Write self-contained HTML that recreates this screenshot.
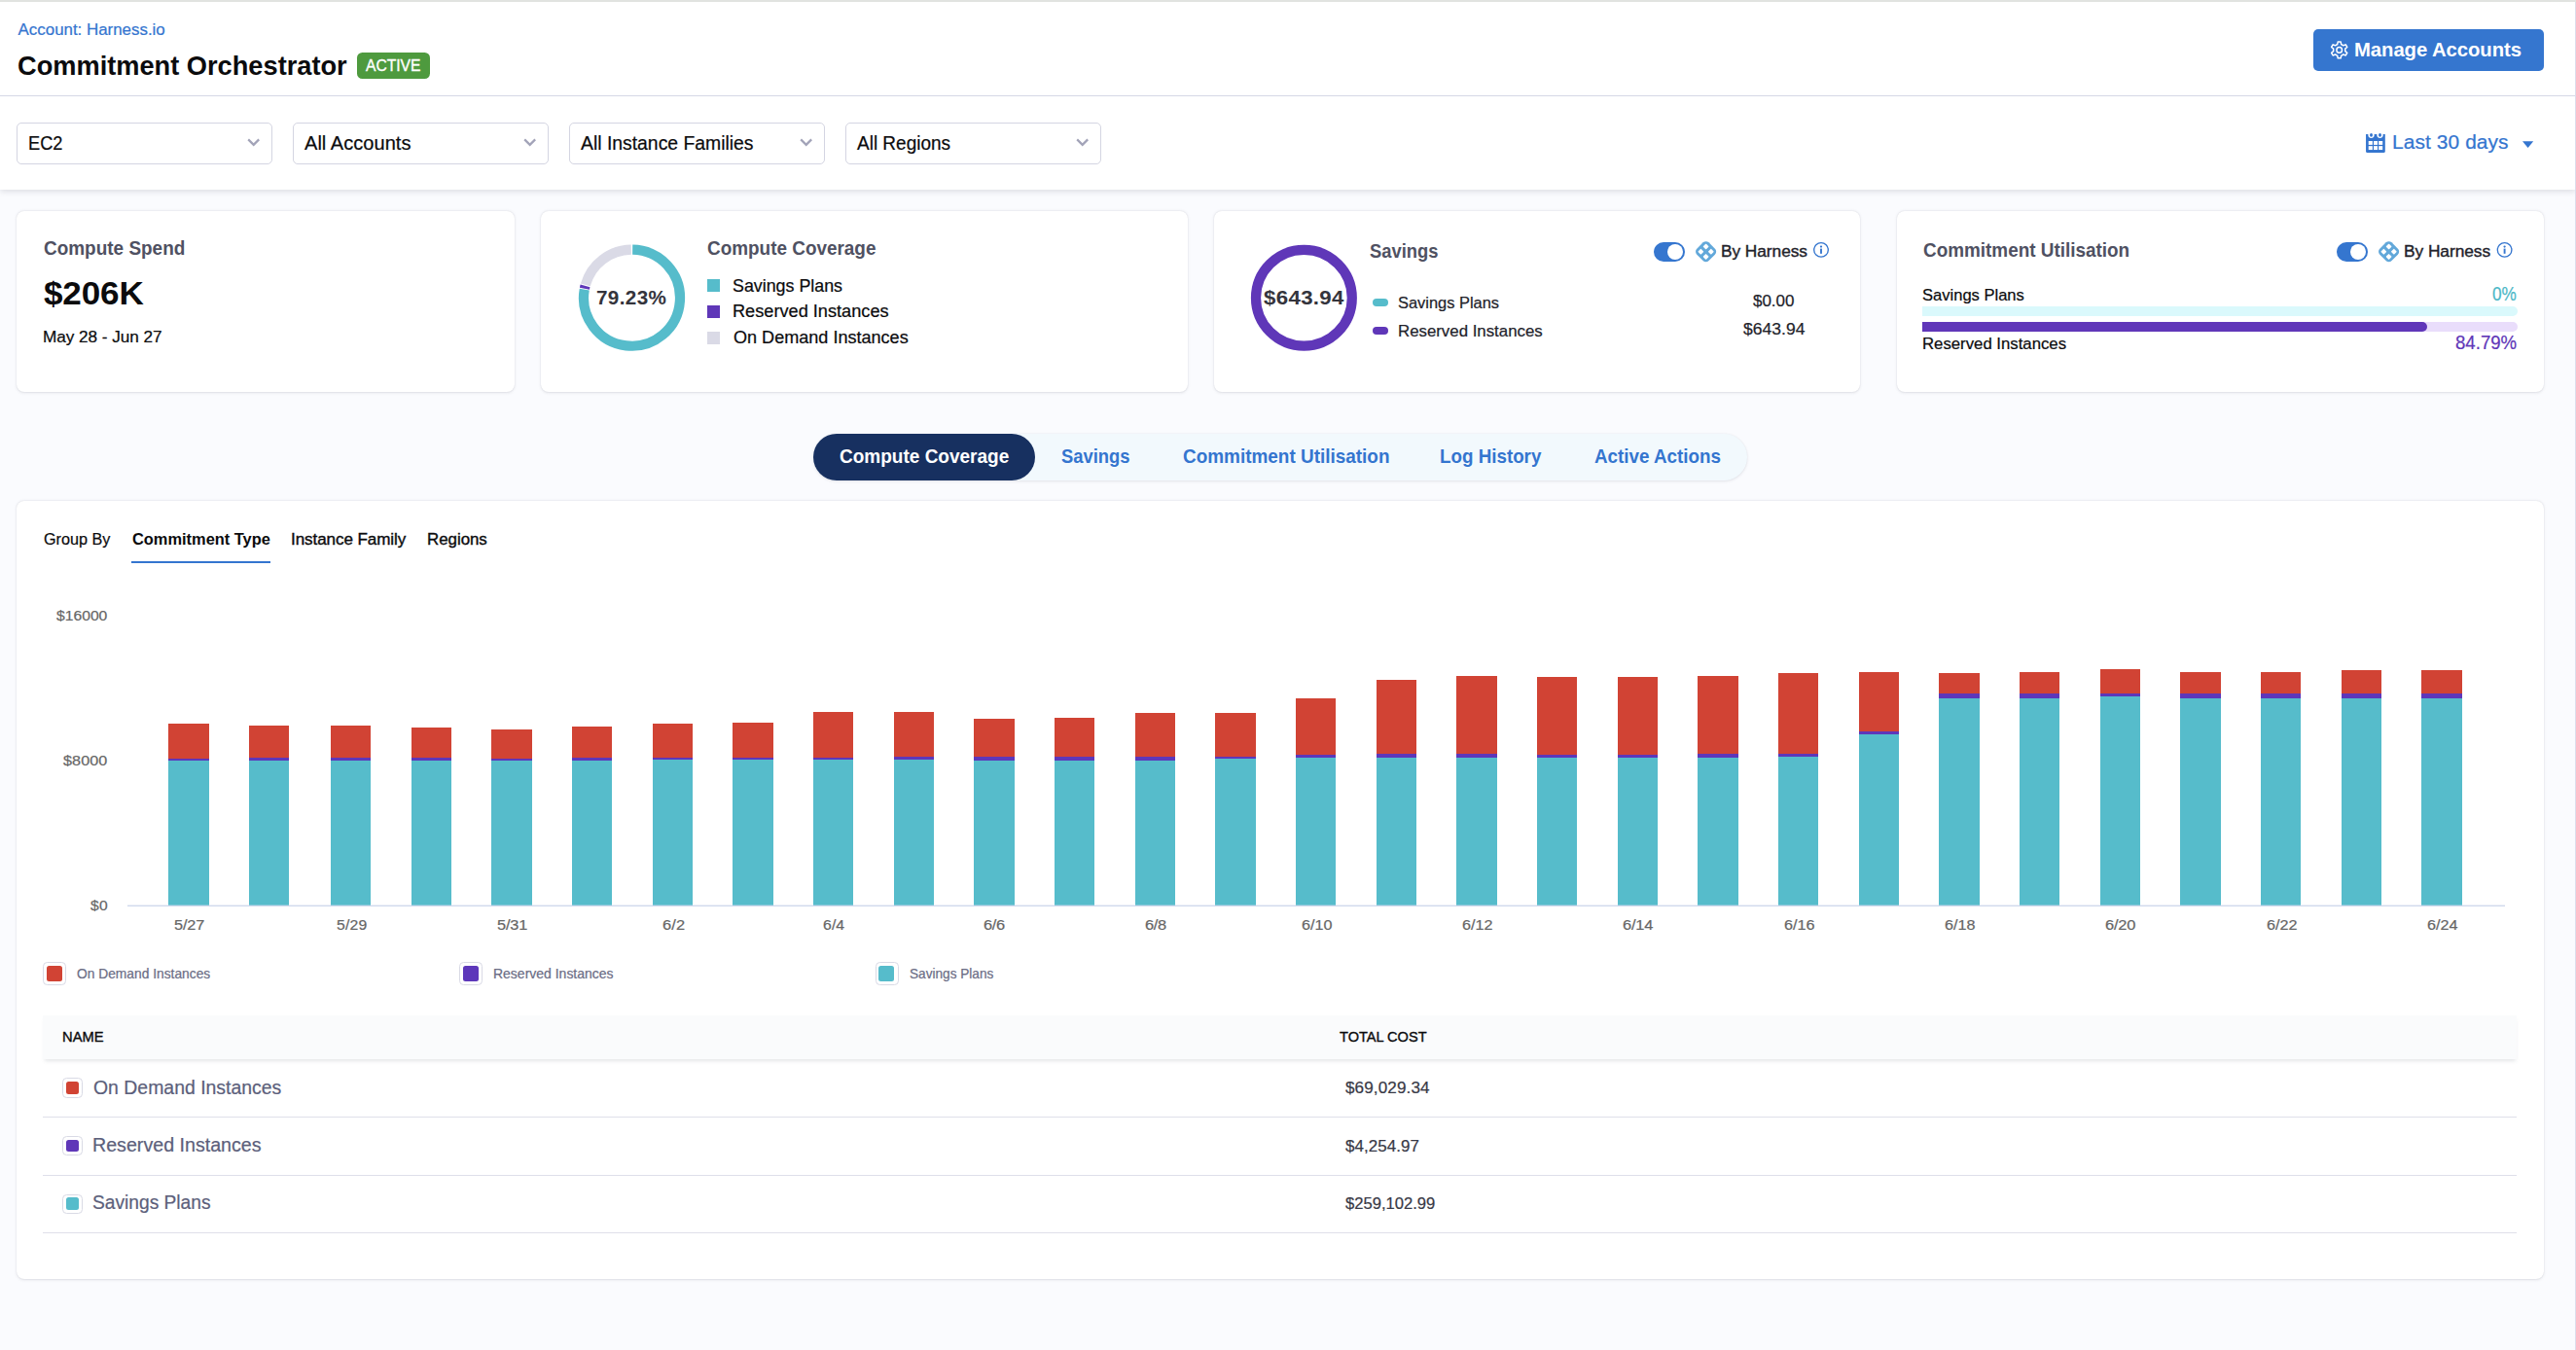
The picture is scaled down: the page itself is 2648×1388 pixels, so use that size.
<!DOCTYPE html>
<html lang="en">
<head>
<meta charset="utf-8">
<title>Commitment Orchestrator</title>
<style>
html,body{margin:0;padding:0;}
body{width:2648px;height:1388px;overflow:hidden;background:#FAFBFE;font-family:"Liberation Sans",sans-serif;}
#root{position:relative;width:2648px;height:1388px;overflow:hidden;}
.abs,.t,.card,.sel,svg{position:absolute;}
svg{overflow:visible;}
.t{white-space:nowrap;display:block;}
.r{-webkit-text-stroke:0.22px currentColor;}
.m{-webkit-text-stroke:0.38px currentColor;}
.card{background:#fff;border-radius:8px;box-shadow:0 0 1.4px rgba(40,41,61,.09),0 0.7px 2.8px rgba(96,97,112,.17);}
.sel{box-sizing:border-box;top:126.3px;height:42.4px;width:262.7px;border:1.2px solid #D4D5E2;border-radius:5px;background:#fff;}
.sw{position:absolute;box-sizing:border-box;border:1.2px solid #D9DAE5;border-radius:4.5px;background:#fff;}
.sw i{position:absolute;display:block;border-radius:2.5px;}
.hr{position:absolute;left:44px;width:2543px;height:1.3px;background:#DFE0EA;}
</style>
</head>
<body>
<div id="root">
<div class="abs" style="left:0;top:99px;width:2648px;height:96px;background:#fff;box-shadow:0 2px 6px rgba(96,97,112,.18);"></div>
<div class="abs" style="left:0;top:0;width:2648px;height:98px;background:#fff;border-bottom:1.2px solid #D5D8E6;"></div>
<div class="abs" style="left:0;top:0;width:2648px;height:2px;background:#E1E3E0;"></div>
<div class="abs" style="left:367px;top:54px;width:75px;height:27px;border-radius:5.5px;background:#4E9A3E;"></div>
<div class="abs" style="left:2378px;top:30px;width:237px;height:43px;border-radius:5px;background:#3576CF;"></div>
<svg style="left:2393px;top:40px" width="22" height="22" viewBox="-11.7 -11.4 22 22"><g fill="none" stroke="#fff" stroke-width="1.5" stroke-linejoin="round"><path d="M-1.92 -5.90 L-1.49 -8.47 L1.49 -8.47 L1.92 -5.90 L4.15 -4.61 L6.59 -5.53 L8.08 -2.94 L6.06 -1.29 L6.06 1.29 L8.08 2.94 L6.59 5.53 L4.15 4.61 L1.92 5.90 L1.49 8.47 L-1.49 8.47 L-1.92 5.90 L-4.15 4.61 L-6.59 5.53 L-8.08 2.94 L-6.06 1.29 L-6.06 -1.29 L-8.08 -2.94 L-6.59 -5.53 L-4.15 -4.61Z"/><circle r="2.8"/></g></svg>
<div class="sel" style="left:17.3px"></div>
<svg style="left:252px;top:140px" width="16" height="13" viewBox="-0.8 0 16 13"><path d="M2.4 3.4 L7.9 8.9 L13.4 3.4" fill="none" stroke="#A2A3B8" stroke-width="2.2"/></svg>
<div class="sel" style="left:301.3px"></div>
<svg style="left:536px;top:140px" width="16" height="13" viewBox="-0.8 0 16 13"><path d="M2.4 3.4 L7.9 8.9 L13.4 3.4" fill="none" stroke="#A2A3B8" stroke-width="2.2"/></svg>
<div class="sel" style="left:585.3px"></div>
<svg style="left:820px;top:140px" width="16" height="13" viewBox="-0.8 0 16 13"><path d="M2.4 3.4 L7.9 8.9 L13.4 3.4" fill="none" stroke="#A2A3B8" stroke-width="2.2"/></svg>
<div class="sel" style="left:869.3px"></div>
<svg style="left:1104px;top:140px" width="16" height="13" viewBox="-0.8 0 16 13"><path d="M2.4 3.4 L7.9 8.9 L13.4 3.4" fill="none" stroke="#A2A3B8" stroke-width="2.2"/></svg>
<svg style="left:2431px;top:136px" width="21" height="21" viewBox="-0.5 -0.5 21 21"><path d="M0.55 1.6h19.75v17.35a1.5 1.5 0 0 1-1.5 1.5h-16.75a1.5 1.5 0 0 1-1.5-1.5z" fill="#3475CF"/><circle cx="6" cy="2.3" r="3.15" fill="#fff"/><circle cx="15" cy="2.3" r="3.15" fill="#fff"/><ellipse cx="6" cy="2.35" rx="1.5" ry="1.95" fill="#3475CF"/><ellipse cx="15" cy="2.35" rx="1.5" ry="1.95" fill="#3475CF"/><g fill="#fff"><rect x="3.2" y="8.5" width="4.15" height="3.9"/><rect x="8.5" y="8.5" width="4" height="3.9"/><rect x="13.65" y="8.5" width="4.05" height="3.9"/><rect x="3.2" y="13.65" width="4.15" height="3.9"/><rect x="8.5" y="13.65" width="4" height="3.9"/><rect x="13.65" y="13.65" width="4.05" height="3.9"/></g></svg>
<svg style="left:2592px;top:144px" width="14" height="10" viewBox="0 0 14 10"><path d="M1 1.2 L12.2 1.2 L6.6 8 Z" fill="#3475CF"/></svg>
<div class="card" style="left:17px;top:217px;width:512px;height:186px;"></div>
<div class="card" style="left:556px;top:217px;width:665px;height:186px;"></div>
<div class="card" style="left:1248px;top:217px;width:664px;height:186px;"></div>
<div class="card" style="left:1949.5px;top:217px;width:665.5px;height:186px;"></div>
<svg style="left:590px;top:246px" width="120" height="120" viewBox="590 246 120 120"><g fill="none" stroke-width="10.2"><path d="M650.19 256.70 A49.5 49.5 0 1 1 600.75 297.60" stroke="#56BCCB"/><path d="M600.91 296.75 A49.5 49.5 0 0 1 601.56 293.89" stroke="#5F37B8"/><path d="M601.82 292.89 A49.5 49.5 0 0 1 648.81 256.70" stroke="#DADAE6"/></g></svg>
<div class="abs" style="left:727px;top:287.2px;width:13.1px;height:13.3px;background:#56BCCB;"></div>
<div class="abs" style="left:727px;top:314px;width:13.1px;height:13.3px;background:#5F37B8;"></div>
<div class="abs" style="left:727px;top:341px;width:13.1px;height:13.3px;background:#DADAE6;"></div>
<svg style="left:1280px;top:246px" width="120" height="120" viewBox="1280 246 120 120"><circle cx="1340.4" cy="306.3" r="49.4" fill="none" stroke="#5F37B8" stroke-width="10.2"/></svg>
<div class="abs" style="left:1411px;top:307px;width:16px;height:8.1px;border-radius:4.1px;background:#56BCCB;"></div>
<div class="abs" style="left:1411px;top:335.9px;width:16px;height:8.2px;border-radius:4.1px;background:#5F37B8;"></div>
<div class="abs" style="left:1700px;top:249px;width:32px;height:20px;border-radius:10px;background:#3576CF;"></div><div class="abs" style="left:1713.7px;top:250.7px;width:16.6px;height:16.6px;border-radius:50%;background:#fff;"></div>
<svg style="left:1741px;top:246px" width="24" height="24" viewBox="-12.6 -12.7 24 24"><g transform="rotate(45)"><rect x="-8.7" y="-8.7" width="17.4" height="17.4" rx="4.2" ry="4.2" fill="#62A8DA"/><rect x="-5.9" y="-5.9" width="4.4" height="4.4" rx="0.8" fill="#fff"/><rect x="1.5" y="-5.9" width="4.4" height="4.4" rx="0.8" fill="#fff"/><rect x="1.5" y="1.5" width="4.4" height="4.4" rx="0.8" fill="#fff"/><rect x="-5.9" y="1.5" width="4.4" height="4.4" rx="0.8" fill="#fff"/></g></svg>
<svg style="left:1863px;top:247px" width="18" height="18" viewBox="-9 -9.9 18 18"><circle r="7.3" fill="none" stroke="#3576CF" stroke-width="1.35"/><circle cx="0" cy="-3.3" r="1.15" fill="#3576CF"/><rect x="-0.95" y="-1.3" width="1.9" height="5.2" fill="#3576CF"/></svg>
<div class="abs" style="left:2402px;top:249px;width:32px;height:20px;border-radius:10px;background:#3576CF;"></div><div class="abs" style="left:2415.7px;top:250.7px;width:16.6px;height:16.6px;border-radius:50%;background:#fff;"></div>
<svg style="left:2443px;top:246px" width="24" height="24" viewBox="-12.6 -12.7 24 24"><g transform="rotate(45)"><rect x="-8.7" y="-8.7" width="17.4" height="17.4" rx="4.2" ry="4.2" fill="#62A8DA"/><rect x="-5.9" y="-5.9" width="4.4" height="4.4" rx="0.8" fill="#fff"/><rect x="1.5" y="-5.9" width="4.4" height="4.4" rx="0.8" fill="#fff"/><rect x="1.5" y="1.5" width="4.4" height="4.4" rx="0.8" fill="#fff"/><rect x="-5.9" y="1.5" width="4.4" height="4.4" rx="0.8" fill="#fff"/></g></svg>
<svg style="left:2565px;top:247px" width="18" height="18" viewBox="-9.6 -9.9 18 18"><circle r="7.3" fill="none" stroke="#3576CF" stroke-width="1.35"/><circle cx="0" cy="-3.3" r="1.15" fill="#3576CF"/><rect x="-0.95" y="-1.3" width="1.9" height="5.2" fill="#3576CF"/></svg>
<div class="abs" style="left:1976px;top:315.1px;width:612px;height:9.8px;border-radius:0 5px 5px 0;background:#DAF9FC;"></div>
<div class="abs" style="left:1976px;top:331px;width:612px;height:9.9px;border-radius:0 5px 5px 0;background:#E9DDFB;"></div>
<div class="abs" style="left:1976px;top:331px;width:519px;height:9.9px;border-radius:0 5px 5px 0;background:#6037B9;"></div>
<div class="abs" style="left:836px;top:446px;width:960px;height:48px;border-radius:24px;background:#F2F9FD;box-shadow:0 0 2px rgba(40,41,61,.06),0 1px 3px rgba(96,97,112,.14);"></div>
<div class="abs" style="left:836px;top:446px;width:228px;height:48px;border-radius:24px;background:#173060;"></div>
<div class="card" style="left:17px;top:515px;width:2598px;height:800px;"></div>
<div class="abs" style="left:135px;top:576.6px;width:143px;height:2.6px;background:#3475CF;"></div>
<svg style="left:0;top:600px" width="2648" height="360" viewBox="0 600 2648 360" shape-rendering="auto"><rect x="173" y="744" width="42" height="36" fill="#D14334"/><rect x="173" y="780" width="42" height="2" fill="#5D37BA"/><rect x="173" y="782" width="42" height="149" fill="#56BCCB"/><rect x="256" y="746" width="41" height="33" fill="#D14334"/><rect x="256" y="779" width="41" height="3" fill="#5D37BA"/><rect x="256" y="782" width="41" height="149" fill="#56BCCB"/><rect x="340" y="746" width="41" height="33" fill="#D14334"/><rect x="340" y="779" width="41" height="3" fill="#5D37BA"/><rect x="340" y="782" width="41" height="149" fill="#56BCCB"/><rect x="423" y="748" width="41" height="31" fill="#D14334"/><rect x="423" y="779" width="41" height="3" fill="#5D37BA"/><rect x="423" y="782" width="41" height="149" fill="#56BCCB"/><rect x="505" y="750" width="42" height="30" fill="#D14334"/><rect x="505" y="780" width="42" height="2" fill="#5D37BA"/><rect x="505" y="782" width="42" height="149" fill="#56BCCB"/><rect x="588" y="747" width="41" height="32" fill="#D14334"/><rect x="588" y="779" width="41" height="3" fill="#5D37BA"/><rect x="588" y="782" width="41" height="149" fill="#56BCCB"/><rect x="671" y="744" width="41" height="35" fill="#D14334"/><rect x="671" y="779" width="41" height="2" fill="#5D37BA"/><rect x="671" y="781" width="41" height="150" fill="#56BCCB"/><rect x="753" y="743" width="42" height="36" fill="#D14334"/><rect x="753" y="779" width="42" height="2" fill="#5D37BA"/><rect x="753" y="781" width="42" height="150" fill="#56BCCB"/><rect x="836" y="732" width="41" height="47" fill="#D14334"/><rect x="836" y="779" width="41" height="2" fill="#5D37BA"/><rect x="836" y="781" width="41" height="150" fill="#56BCCB"/><rect x="919" y="732" width="41" height="46" fill="#D14334"/><rect x="919" y="778" width="41" height="3" fill="#5D37BA"/><rect x="919" y="781" width="41" height="150" fill="#56BCCB"/><rect x="1001" y="739" width="42" height="39" fill="#D14334"/><rect x="1001" y="778" width="42" height="4" fill="#5D37BA"/><rect x="1001" y="782" width="42" height="149" fill="#56BCCB"/><rect x="1084" y="738" width="41" height="40" fill="#D14334"/><rect x="1084" y="778" width="41" height="4" fill="#5D37BA"/><rect x="1084" y="782" width="41" height="149" fill="#56BCCB"/><rect x="1167" y="733" width="41" height="45" fill="#D14334"/><rect x="1167" y="778" width="41" height="4" fill="#5D37BA"/><rect x="1167" y="782" width="41" height="149" fill="#56BCCB"/><rect x="1249" y="733" width="42" height="45" fill="#D14334"/><rect x="1249" y="778" width="42" height="2" fill="#5D37BA"/><rect x="1249" y="780" width="42" height="151" fill="#56BCCB"/><rect x="1332" y="718" width="41" height="58" fill="#D14334"/><rect x="1332" y="776" width="41" height="3" fill="#5D37BA"/><rect x="1332" y="779" width="41" height="152" fill="#56BCCB"/><rect x="1415" y="699" width="41" height="76" fill="#D14334"/><rect x="1415" y="775" width="41" height="4" fill="#5D37BA"/><rect x="1415" y="779" width="41" height="152" fill="#56BCCB"/><rect x="1497" y="695" width="42" height="80" fill="#D14334"/><rect x="1497" y="775" width="42" height="4" fill="#5D37BA"/><rect x="1497" y="779" width="42" height="152" fill="#56BCCB"/><rect x="1580" y="696" width="41" height="80" fill="#D14334"/><rect x="1580" y="776" width="41" height="3" fill="#5D37BA"/><rect x="1580" y="779" width="41" height="152" fill="#56BCCB"/><rect x="1663" y="696" width="41" height="80" fill="#D14334"/><rect x="1663" y="776" width="41" height="3" fill="#5D37BA"/><rect x="1663" y="779" width="41" height="152" fill="#56BCCB"/><rect x="1745" y="695" width="42" height="80" fill="#D14334"/><rect x="1745" y="775" width="42" height="4" fill="#5D37BA"/><rect x="1745" y="779" width="42" height="152" fill="#56BCCB"/><rect x="1828" y="692" width="41" height="83" fill="#D14334"/><rect x="1828" y="775" width="41" height="3" fill="#5D37BA"/><rect x="1828" y="778" width="41" height="153" fill="#56BCCB"/><rect x="1911" y="691" width="41" height="61" fill="#D14334"/><rect x="1911" y="752" width="41" height="3" fill="#5D37BA"/><rect x="1911" y="755" width="41" height="176" fill="#56BCCB"/><rect x="1993" y="692" width="42" height="21" fill="#D14334"/><rect x="1993" y="713" width="42" height="5" fill="#5D37BA"/><rect x="1993" y="718" width="42" height="213" fill="#56BCCB"/><rect x="2076" y="691" width="41" height="22" fill="#D14334"/><rect x="2076" y="713" width="41" height="5" fill="#5D37BA"/><rect x="2076" y="718" width="41" height="213" fill="#56BCCB"/><rect x="2159" y="688" width="41" height="25" fill="#D14334"/><rect x="2159" y="713" width="41" height="3" fill="#5D37BA"/><rect x="2159" y="716" width="41" height="215" fill="#56BCCB"/><rect x="2241" y="691" width="42" height="22" fill="#D14334"/><rect x="2241" y="713" width="42" height="5" fill="#5D37BA"/><rect x="2241" y="718" width="42" height="213" fill="#56BCCB"/><rect x="2324" y="691" width="41" height="22" fill="#D14334"/><rect x="2324" y="713" width="41" height="5" fill="#5D37BA"/><rect x="2324" y="718" width="41" height="213" fill="#56BCCB"/><rect x="2407" y="689" width="41" height="24" fill="#D14334"/><rect x="2407" y="713" width="41" height="5" fill="#5D37BA"/><rect x="2407" y="718" width="41" height="213" fill="#56BCCB"/><rect x="2489" y="689" width="42" height="24" fill="#D14334"/><rect x="2489" y="713" width="42" height="5" fill="#5D37BA"/><rect x="2489" y="718" width="42" height="213" fill="#56BCCB"/><rect x="131" y="930.6" width="2444" height="1.3" fill="#CCD6EB"/></svg>
<div class="sw" style="left:44.2px;top:989.1px;width:23.8px;height:23.7px;"><i style="left:2.7px;top:2.7px;width:16px;height:15.9px;background:#D14334;"></i></div>
<div class="sw" style="left:472.0px;top:989.1px;width:23.8px;height:23.7px;"><i style="left:2.7px;top:2.7px;width:16px;height:15.9px;background:#5D37BA;"></i></div>
<div class="sw" style="left:899.8px;top:989.1px;width:23.8px;height:23.7px;"><i style="left:2.7px;top:2.7px;width:16px;height:15.9px;background:#56BCCB;"></i></div>
<div class="abs" style="left:44px;top:1044px;width:2543px;height:45.2px;background:#FAFBFC;box-shadow:0 3px 4px -1.5px rgba(96,97,112,.16);"></div>
<div class="hr" style="top:1147.8px"></div>
<div class="hr" style="top:1207.8px"></div>
<div class="hr" style="top:1267.0px"></div>
<div class="sw" style="left:64.1px;top:1108.1px;width:20.6px;height:20.6px;"><i style="left:2.8px;top:2.7px;width:12.8px;height:12.8px;background:#D14333;"></i></div>
<div class="sw" style="left:64.1px;top:1167.9px;width:20.6px;height:20.6px;"><i style="left:2.8px;top:2.7px;width:12.8px;height:12.8px;background:#5F37B8;"></i></div>
<div class="sw" style="left:64.1px;top:1227.8px;width:20.6px;height:20.6px;"><i style="left:2.8px;top:2.7px;width:12.8px;height:12.8px;background:#56BCCB;"></i></div>
<div class="abs" style="left:2646.6px;top:2px;width:1.4px;height:1386px;background:#DCDDEC;"></div>
<span class="t r" style="left:18.60px;top:22.69px;font-size:16.9px;line-height:16.9px;color:#3475CF;">Account: Harness.io</span>
<span class="t" style="left:17.60px;top:54.40px;font-size:28.0px;line-height:28.0px;color:#0B0B0D;font-weight:700;transform:scaleX(0.9718);transform-origin:0 50%;">Commitment Orchestrator</span>
<span class="t m" style="left:376.40px;top:59.69px;font-size:16.9px;line-height:16.9px;color:#fff;transform:scaleX(0.9246);transform-origin:0 50%;">ACTIVE</span>
<span class="t" style="left:2420.20px;top:42.32px;font-size:19.7px;line-height:19.7px;color:#fff;font-weight:700;letter-spacing:-0.042px;transform:scaleX(1.0289);transform-origin:0 50%;">Manage Accounts</span>
<span class="t r" style="left:2458.60px;top:136.92px;font-size:19.7px;line-height:19.7px;color:#3475CF;letter-spacing:0.103px;transform:scaleX(1.0600);transform-origin:0 50%;">Last 30 days</span>
<span class="t r" style="left:28.90px;top:138.22px;font-size:19.7px;line-height:19.7px;color:#0B0B0D;transform:scaleX(0.9246);transform-origin:0 50%;">EC2</span>
<span class="t r" style="left:313.20px;top:138.22px;font-size:19.7px;line-height:19.7px;color:#0B0B0D;letter-spacing:0.036px;transform:scaleX(1.0168);transform-origin:0 50%;">All Accounts</span>
<span class="t r" style="left:597.20px;top:138.22px;font-size:19.7px;line-height:19.7px;color:#0B0B0D;transform:scaleX(0.9834);transform-origin:0 50%;">All Instance Families</span>
<span class="t r" style="left:881.20px;top:138.22px;font-size:19.7px;line-height:19.7px;color:#0B0B0D;transform:scaleX(0.9641);transform-origin:0 50%;">All Regions</span>
<span class="t" style="left:44.60px;top:246.32px;font-size:19.7px;line-height:19.7px;color:#4F5162;font-weight:700;transform:scaleX(0.9627);transform-origin:0 50%;">Compute Spend</span>
<span class="t" style="left:45.10px;top:285.29px;font-size:33.8px;line-height:33.8px;color:#0B0B0D;font-weight:700;letter-spacing:-0.144px;transform:scaleX(1.0384);transform-origin:0 50%;">$206K</span>
<span class="t r" style="left:43.90px;top:338.79px;font-size:16.9px;line-height:16.9px;color:#0B0B0D;letter-spacing:-0.049px;transform:scaleX(1.0176);transform-origin:0 50%;">May 28 - Jun 27</span>
<span class="t" style="left:727.20px;top:246.22px;font-size:19.7px;line-height:19.7px;color:#4F5162;font-weight:700;transform:scaleX(0.9609);transform-origin:0 50%;">Compute Coverage</span>
<span class="t" style="left:613.00px;top:296.82px;font-size:19.7px;line-height:19.7px;color:#34343C;font-weight:700;letter-spacing:0.362px;transform:scaleX(1.0493);transform-origin:0 50%;">79.23%</span>
<span class="t r" style="left:752.70px;top:284.51px;font-size:18.3px;line-height:18.3px;color:#0B0B0D;transform:scaleX(0.9757);transform-origin:0 50%;">Savings Plans</span>
<span class="t r" style="left:753.00px;top:311.01px;font-size:18.3px;line-height:18.3px;color:#0B0B0D;transform:scaleX(0.9938);transform-origin:0 50%;">Reserved Instances</span>
<span class="t r" style="left:753.70px;top:338.01px;font-size:18.3px;line-height:18.3px;color:#0B0B0D;transform:scaleX(0.9879);transform-origin:0 50%;">On Demand Instances</span>
<span class="t" style="left:1408.00px;top:248.92px;font-size:19.7px;line-height:19.7px;color:#4F5162;font-weight:700;transform:scaleX(0.9327);transform-origin:0 50%;">Savings</span>
<span class="t" style="left:1299.30px;top:296.82px;font-size:19.7px;line-height:19.7px;color:#34343C;font-weight:700;letter-spacing:0.301px;transform:scaleX(1.1300);transform-origin:0 50%;">$643.94</span>
<span class="t m" style="left:1769.10px;top:250.69px;font-size:16.9px;line-height:16.9px;color:#22222A;letter-spacing:-0.033px;transform:scaleX(1.0221);transform-origin:0 50%;">By Harness</span>
<span class="t r" style="left:1437.20px;top:304.49px;font-size:16.9px;line-height:16.9px;color:#22222A;transform:scaleX(0.9717);transform-origin:0 50%;">Savings Plans</span>
<span class="t r" style="left:1437.40px;top:332.59px;font-size:16.9px;line-height:16.9px;color:#22222A;transform:scaleX(0.9959);transform-origin:0 50%;">Reserved Instances</span>
<span class="t r" style="left:1802.40px;top:301.59px;font-size:16.9px;line-height:16.9px;color:#22222A;letter-spacing:-0.025px;transform:scaleX(1.0071);transform-origin:0 50%;">$0.00</span>
<span class="t r" style="left:1791.90px;top:331.39px;font-size:16.9px;line-height:16.9px;color:#22222A;letter-spacing:0.048px;transform:scaleX(1.0344);transform-origin:0 50%;">$643.94</span>
<span class="t" style="left:1976.80px;top:247.72px;font-size:19.7px;line-height:19.7px;color:#4F5162;font-weight:700;transform:scaleX(0.9600);transform-origin:0 50%;">Commitment Utilisation</span>
<span class="t m" style="left:2471.00px;top:250.69px;font-size:16.9px;line-height:16.9px;color:#22222A;letter-spacing:-0.043px;transform:scaleX(1.0256);transform-origin:0 50%;">By Harness</span>
<span class="t r" style="left:1976.00px;top:295.59px;font-size:16.9px;line-height:16.9px;color:#0B0B0D;transform:scaleX(0.9793);transform-origin:0 50%;">Savings Plans</span>
<span class="t r" style="left:2561.90px;top:293.32px;font-size:19.7px;line-height:19.7px;color:#4DB8C7;transform:scaleX(0.8719);transform-origin:0 50%;">0%</span>
<span class="t r" style="left:1976.00px;top:345.69px;font-size:16.9px;line-height:16.9px;color:#0B0B0D;transform:scaleX(0.9919);transform-origin:0 50%;">Reserved Instances</span>
<span class="t r" style="left:2523.90px;top:343.42px;font-size:19.7px;line-height:19.7px;color:#5F37B8;transform:scaleX(0.9455);transform-origin:0 50%;">84.79%</span>
<span class="t" style="left:863.00px;top:460.32px;font-size:19.7px;line-height:19.7px;color:#fff;font-weight:700;transform:scaleX(0.9654);transform-origin:0 50%;">Compute Coverage</span>
<span class="t" style="left:1091.00px;top:460.32px;font-size:19.7px;line-height:19.7px;color:#3475CF;font-weight:700;transform:scaleX(0.9326);transform-origin:0 50%;">Savings</span>
<span class="t" style="left:1215.90px;top:460.32px;font-size:19.7px;line-height:19.7px;color:#3475CF;font-weight:700;transform:scaleX(0.9617);transform-origin:0 50%;">Commitment Utilisation</span>
<span class="t" style="left:1479.50px;top:460.32px;font-size:19.7px;line-height:19.7px;color:#3475CF;font-weight:700;transform:scaleX(0.9542);transform-origin:0 50%;">Log History</span>
<span class="t" style="left:1639.00px;top:460.32px;font-size:19.7px;line-height:19.7px;color:#3475CF;font-weight:700;transform:scaleX(0.9557);transform-origin:0 50%;">Active Actions</span>
<span class="t r" style="left:44.60px;top:546.79px;font-size:16.9px;line-height:16.9px;color:#0B0B0D;transform:scaleX(0.9578);transform-origin:0 50%;">Group By</span>
<span class="t" style="left:135.80px;top:546.79px;font-size:16.9px;line-height:16.9px;color:#0B0B0D;font-weight:700;transform:scaleX(0.9712);transform-origin:0 50%;">Commitment Type</span>
<span class="t m" style="left:298.80px;top:546.79px;font-size:16.9px;line-height:16.9px;color:#0B0B0D;letter-spacing:-0.071px;transform:scaleX(1.0085);transform-origin:0 50%;">Instance Family</span>
<span class="t m" style="left:438.50px;top:546.79px;font-size:16.9px;line-height:16.9px;color:#0B0B0D;transform:scaleX(0.9968);transform-origin:0 50%;">Regions</span>
<span class="t r" style="left:58.30px;top:624.68px;font-size:15.5px;line-height:15.5px;color:#666666;transform:scaleX(1.0118);transform-origin:0 50%;">$16000</span>
<span class="t r" style="left:65.20px;top:774.08px;font-size:15.5px;line-height:15.5px;color:#666666;letter-spacing:0.096px;transform:scaleX(1.0419);transform-origin:0 50%;">$8000</span>
<span class="t r" style="left:92.90px;top:922.68px;font-size:15.5px;line-height:15.5px;color:#666666;letter-spacing:0.298px;transform:scaleX(1.0059);transform-origin:0 50%;">$0</span>
<span class="t r" style="left:179.35px;top:942.88px;font-size:15.5px;line-height:15.5px;color:#666666;letter-spacing:-0.158px;transform:scaleX(1.0517);transform-origin:0 50%;">5/27</span>
<span class="t r" style="left:346.02px;top:942.88px;font-size:15.5px;line-height:15.5px;color:#666666;letter-spacing:0.164px;transform:scaleX(1.0167);transform-origin:0 50%;">5/29</span>
<span class="t r" style="left:511.35px;top:942.88px;font-size:15.5px;line-height:15.5px;color:#666666;letter-spacing:-0.158px;transform:scaleX(1.0517);transform-origin:0 50%;">5/31</span>
<span class="t r" style="left:680.73px;top:942.88px;font-size:15.5px;line-height:15.5px;color:#666666;letter-spacing:0.160px;transform:scaleX(1.0600);transform-origin:0 50%;">6/2</span>
<span class="t r" style="left:846.07px;top:942.88px;font-size:15.5px;line-height:15.5px;color:#666666;letter-spacing:0.098px;transform:scaleX(1.0182);transform-origin:0 50%;">6/4</span>
<span class="t r" style="left:1011.40px;top:942.88px;font-size:15.5px;line-height:15.5px;color:#666666;letter-spacing:-0.311px;transform:scaleX(1.0600);transform-origin:0 50%;">6/6</span>
<span class="t r" style="left:1176.73px;top:942.88px;font-size:15.5px;line-height:15.5px;color:#666666;letter-spacing:-0.311px;transform:scaleX(1.0600);transform-origin:0 50%;">6/8</span>
<span class="t r" style="left:1337.62px;top:942.88px;font-size:15.5px;line-height:15.5px;color:#666666;letter-spacing:-0.032px;transform:scaleX(1.0433);transform-origin:0 50%;">6/10</span>
<span class="t r" style="left:1502.95px;top:942.88px;font-size:15.5px;line-height:15.5px;color:#666666;letter-spacing:-0.032px;transform:scaleX(1.0433);transform-origin:0 50%;">6/12</span>
<span class="t r" style="left:1668.28px;top:942.88px;font-size:15.5px;line-height:15.5px;color:#666666;letter-spacing:-0.170px;transform:scaleX(1.0600);transform-origin:0 50%;">6/14</span>
<span class="t r" style="left:1833.62px;top:942.88px;font-size:15.5px;line-height:15.5px;color:#666666;letter-spacing:-0.032px;transform:scaleX(1.0433);transform-origin:0 50%;">6/16</span>
<span class="t r" style="left:1998.95px;top:942.88px;font-size:15.5px;line-height:15.5px;color:#666666;letter-spacing:-0.032px;transform:scaleX(1.0433);transform-origin:0 50%;">6/18</span>
<span class="t r" style="left:2164.28px;top:942.88px;font-size:15.5px;line-height:15.5px;color:#666666;letter-spacing:-0.170px;transform:scaleX(1.0600);transform-origin:0 50%;">6/20</span>
<span class="t r" style="left:2329.62px;top:942.88px;font-size:15.5px;line-height:15.5px;color:#666666;letter-spacing:-0.032px;transform:scaleX(1.0433);transform-origin:0 50%;">6/22</span>
<span class="t r" style="left:2494.95px;top:942.88px;font-size:15.5px;line-height:15.5px;color:#666666;letter-spacing:-0.032px;transform:scaleX(1.0433);transform-origin:0 50%;">6/24</span>
<span class="t r" style="left:79.30px;top:994.16px;font-size:14.1px;line-height:14.1px;color:#6B6D85;transform:scaleX(0.9786);transform-origin:0 50%;">On Demand Instances</span>
<span class="t r" style="left:506.70px;top:994.06px;font-size:14.1px;line-height:14.1px;color:#6B6D85;transform:scaleX(0.9920);transform-origin:0 50%;">Reserved Instances</span>
<span class="t r" style="left:935.30px;top:994.06px;font-size:14.1px;line-height:14.1px;color:#6B6D85;transform:scaleX(0.9660);transform-origin:0 50%;">Savings Plans</span>
<span class="t m" style="left:63.70px;top:1057.68px;font-size:15.5px;line-height:15.5px;color:#0B0B0D;transform:scaleX(0.9502);transform-origin:0 50%;">NAME</span>
<span class="t m" style="left:1377.10px;top:1057.88px;font-size:15.5px;line-height:15.5px;color:#0B0B0D;transform:scaleX(0.9396);transform-origin:0 50%;">TOTAL COST</span>
<span class="t r" style="left:96.10px;top:1109.12px;font-size:19.7px;line-height:19.7px;color:#5C5F7B;transform:scaleX(0.9867);transform-origin:0 50%;">On Demand Instances</span>
<span class="t r" style="left:95.10px;top:1168.32px;font-size:19.7px;line-height:19.7px;color:#5C5F7B;transform:scaleX(0.9977);transform-origin:0 50%;">Reserved Instances</span>
<span class="t r" style="left:95.10px;top:1226.82px;font-size:19.7px;line-height:19.7px;color:#5C5F7B;transform:scaleX(0.9742);transform-origin:0 50%;">Savings Plans</span>
<span class="t r" style="left:1383.30px;top:1110.59px;font-size:16.9px;line-height:16.9px;color:#383946;letter-spacing:0.110px;transform:scaleX(1.0118);transform-origin:0 50%;">$69,029.34</span>
<span class="t r" style="left:1383.30px;top:1171.49px;font-size:16.9px;line-height:16.9px;color:#383946;letter-spacing:0.075px;transform:scaleX(1.0027);transform-origin:0 50%;">$4,254.97</span>
<span class="t r" style="left:1383.30px;top:1229.59px;font-size:16.9px;line-height:16.9px;color:#383946;transform:scaleX(0.9830);transform-origin:0 50%;">$259,102.99</span>
</div>
</body>
</html>
